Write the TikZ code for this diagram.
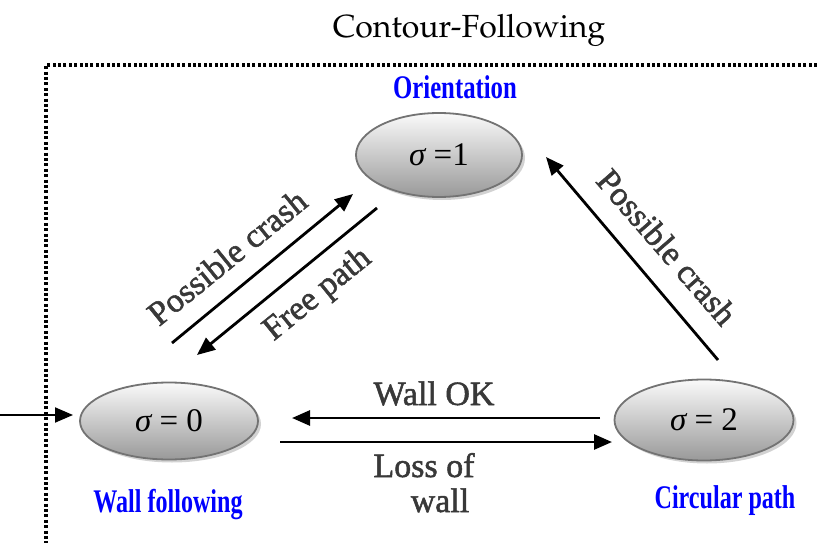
\documentclass[tikz,border=0pt]{standalone}
\usepackage[T1]{fontenc}
\usepackage{fontspec}
\setmainfont{Liberation Serif}
\newfontfamily\heavyserif[FakeBold=1.5]{Liberation Serif}
\usepackage{graphicx}
\usetikzlibrary{arrows.meta,shapes.geometric,shadows}
\newcommand{\palfont}{\fontencoding{T1}\fontfamily{ppl}\selectfont}

\tikzset{
  state/.style={ellipse, draw=black!55, line width=1.8pt,
    top color=black!2, bottom color=black!40,
    drop shadow={shadow xshift=3pt, shadow yshift=-3pt, fill=black!35},
    font=\fontsize{33}{36}\selectfont, inner sep=0pt},
  transition/.style={line width=2.8pt, -{Triangle[length=18pt,width=15pt]}},
  entry/.style={line width=1.9pt, -{Triangle[length=18pt,width=15pt]}},
  edgelabel/.style={font=\heavyserif\fontsize{34}{38}\selectfont, text=black!78, inner sep=0pt},
  modelabel/.style={font=\bfseries\fontsize{33}{36}\selectfont, text=blue, anchor=base, inner sep=0pt},
  frame/.style={line width=3.6pt, dash pattern=on 3pt off 2.4pt}
}

\begin{document}
\begin{tikzpicture}[x=1pt,y=-1pt]
\useasboundingbox (0,0) rectangle (817,543);

% dotted frame of the contour-following mode
\draw[frame] (817,65) -- (46,65) -- (46,543);
\node[anchor=base, font=\palfont\fontsize{32}{36}\selectfont] (title) at (469,38) {Contour-Following};

% states
\node[state, minimum width=166pt, minimum height=84pt] (s1) at (439,155) {{\itshape σ} =1};
\node[state, minimum width=178pt, minimum height=77pt] (s0) at (169,421) {{\itshape σ} = 0};
\node[state, minimum width=179pt, minimum height=81pt] (s2) at (704,420) {{\itshape σ} = 2};

% mode names
\node[modelabel] (n1) at (455,99) {\scalebox{0.75}[1]{Orientation}};
\node[modelabel] (n0) at (168,512) {\scalebox{0.73}[1]{Wall following}};
\node[modelabel] (n2) at (725,508) {\scalebox{0.73}[1]{Circular path}};

% arrow end points
\coordinate (in0) at (0,415);
\coordinate (in1) at (73,415);
\coordinate (ok0) at (600,418);
\coordinate (ok1) at (292,418);
\coordinate (lw0) at (280,442);
\coordinate (lw1) at (612,442);
\coordinate (pc0) at (172,343);
\coordinate (pc1) at (353,194);
\coordinate (fp0) at (377,208);
\coordinate (fp1) at (197,355);
\coordinate (rc0) at (718,360);
\coordinate (rc1) at (546,157);

% transitions
\draw[entry] (in0) -- (in1);
\draw[transition] (ok0) -- (ok1);
\draw[transition] (lw0) -- (lw1);
\draw[transition] (pc0) -- (pc1);
\draw[transition] (fp0) -- (fp1);
\draw[transition] (rc0) -- (rc1);

% transition labels
\node[edgelabel, anchor=base] (lok) at (434,405) {Wall OK};
\node[edgelabel, anchor=base] (llw1) at (424,477) {Loss of};
\node[edgelabel, anchor=base] (llw2) at (440,512) {wall};
\node[edgelabel, rotate=39] (lpc) at (227,257) {Possible crash};
\node[edgelabel, rotate=39] (lfp) at (318,295) {Free path};
\node[edgelabel, rotate=-49] (lrc) at (667,247) {Possible crash};
\end{tikzpicture}
\end{document}
